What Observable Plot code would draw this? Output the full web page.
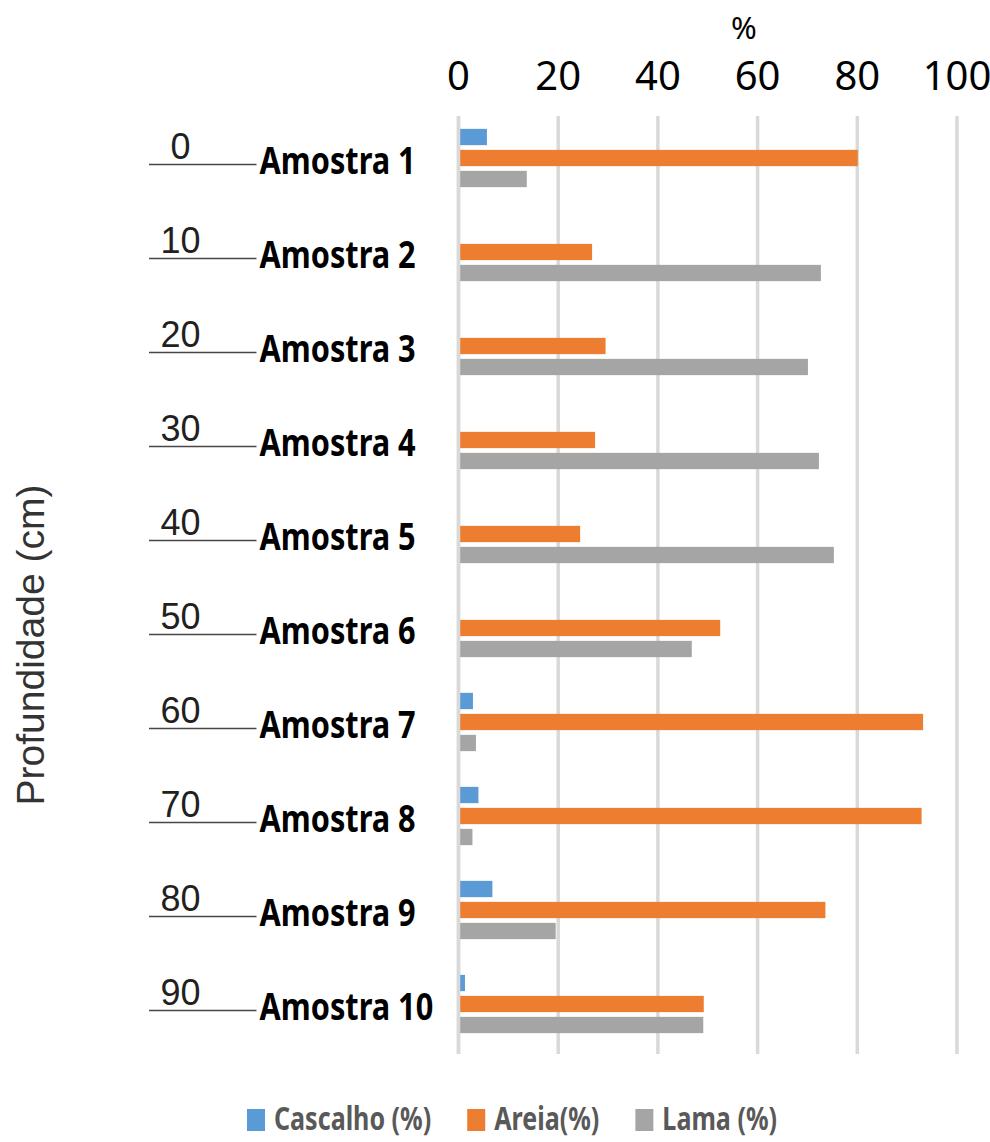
<!DOCTYPE html>
<html>
<head>
<meta charset="utf-8">
<script src="https://cdn.jsdelivr.net/npm/d3@7"></script>
<script src="https://cdn.jsdelivr.net/npm/@observablehq/plot@0.6"></script>
<style>
  body { margin: 0; background: #fff; }
  #chart { width: 990px; }
  #legend { display: block; }
</style>
</head>
<body>
<div id="chart"></div>
<script>
// Grain-size composition of each core sample (percent), top to bottom
const samples = ["Amostra 1", "Amostra 2", "Amostra 3", "Amostra 4", "Amostra 5",
                 "Amostra 6", "Amostra 7", "Amostra 8", "Amostra 9", "Amostra 10"];
const depths = [0, 10, 20, 30, 40, 50, 60, 70, 80, 90]; // cm
const cascalho = [5.8, 0, 0, 0, 0, 0, 3.0, 4.1, 6.9, 1.4];
const areia = [80.2, 26.9, 29.6, 27.5, 24.5, 52.6, 93.3, 93.0, 73.7, 49.3];
const lama = [13.8, 72.8, 70.2, 72.4, 75.4, 46.9, 3.6, 2.9, 19.6, 49.2];
const series = ["Cascalho (%)", "Areia(%)", "Lama (%)"];
const colors = ["#5b9bd5", "#ed7d31", "#a5a5a5"];
const xTicks = [0, 20, 40, 60, 80, 100];

const SANS = '"Noto Sans", sans-serif';
const PLAIN = '"Liberation Sans", Arial, sans-serif';
const NARROW_X = 0.83;   // horizontal squeeze for the bold sample labels
const LEGEND_X = 0.76;   // horizontal squeeze for legend labels

const seriesValues = [cascalho, areia, lama];
const rows = samples.map((s, i) => ({sample: s, depth: depths[i]}));
const records = samples.flatMap((s, i) =>
  series.map((name, j) => ({sample: s, series: name, value: seriesValues[j][i]})));

const width = 990, height = 1095;
const marginTop = 107, marginBottom = 41, marginLeft = 458, marginRight = 33.5;
const band = (height - marginTop - marginBottom) / samples.length;
const barH = 17, barStep = 21;

// one bar mark per series, stacked inside each sample's band
const barMarks = series.map((name, j) => {
  const off = (j - 1) * barStep;
  return Plot.barX(records.filter(d => d.series === name), {
    x: "value", y: "sample", fill: "series",
    insetTop: band / 2 + off - barH / 2,
    insetBottom: band / 2 - off - barH / 2
  });
});

const chart = Plot.plot({
  width, height, marginTop, marginBottom, marginLeft, marginRight,
  style: {background: "#fff", fontFamily: SANS},
  x: {domain: [0, 100]},
  y: {domain: samples, padding: 0},
  color: {domain: series, range: colors},
  marks: [
    Plot.gridX(xTicks, {stroke: "#d9d9d9", strokeOpacity: 1, strokeWidth: 3.5, insetTop: 9}),
    ...barMarks,
    Plot.ruleX([0], {stroke: "#d9d9d9", strokeWidth: 3.5, insetTop: 9}),
    Plot.axisX(xTicks, {anchor: "top", tickSize: 0, tickPadding: 18, fontSize: 40,
                        fill: "#000", fontFamily: SANS, label: null}),
    Plot.text(["%"], {frameAnchor: "top", dx: 36, dy: -78, lineAnchor: "middle",
                      fontSize: 31, fill: "#000", fontFamily: SANS}),
    Plot.axisY({anchor: "left", tickSize: 0, tickPadding: 0, textAnchor: "start",
                dx: -199, dy: 4, fontSize: 37, fontWeight: "bold", fill: "#000",
                fontFamily: SANS, label: null}),
    // depth markers beside each sample
    Plot.ruleY(rows, {y: "sample", dy: 6, insetLeft: -(marginLeft - 149),
                      insetRight: (width - marginRight) - 256.5, stroke: "#4a4646", strokeWidth: 1.6}),
    Plot.text(rows, {y: "sample", text: d => String(d.depth), frameAnchor: "left",
                     dx: -278, dy: -11, textAnchor: "middle", fontSize: 36,
                     fill: "#231f20", fontFamily: PLAIN}),
    Plot.text(["Profundidade (cm)"], {frameAnchor: "left", rotate: -90, dx: -427, dy: 64,
                                      textAnchor: "middle", fontSize: 39, fill: "#333",
                                      fontFamily: PLAIN})
  ]
});
document.getElementById("chart").appendChild(chart);

// narrow the bold sample labels, keeping their left edge in place
d3.select(chart).selectAll('g[aria-label="y-axis tick label"] text').each(function() {
  const t = this.getAttribute("transform") || "";
  this.setAttribute("transform", `${t} scale(${NARROW_X},1)`);
});

// legend below the chart: swatch + narrowed bold label per series
const legendH = 47, legendMid = 23, sw = 18, swH = 22;
const legend = d3.select("body").append("svg")
  .attr("id", "legend").attr("width", width).attr("height", legendH)
  .attr("viewBox", `0 0 ${width} ${legendH}`);
let lx = 247;
series.forEach((name, j) => {
  legend.append("rect").attr("x", lx).attr("y", legendMid - swH / 2 + 2)
    .attr("width", sw).attr("height", swH).attr("fill", colors[j]);
  const tx = lx + sw + 9;
  const label = legend.append("text")
    .attr("transform", `translate(${tx},${legendMid}) scale(${LEGEND_X},1)`)
    .attr("dy", "0.36em")
    .style("font-family", SANS).style("font-weight", "bold")
    .style("font-size", "33px").attr("fill", "#595959")
    .text(name);
  lx = tx + label.node().getComputedTextLength() * LEGEND_X + 36;
});
</script>
</body>
</html>
